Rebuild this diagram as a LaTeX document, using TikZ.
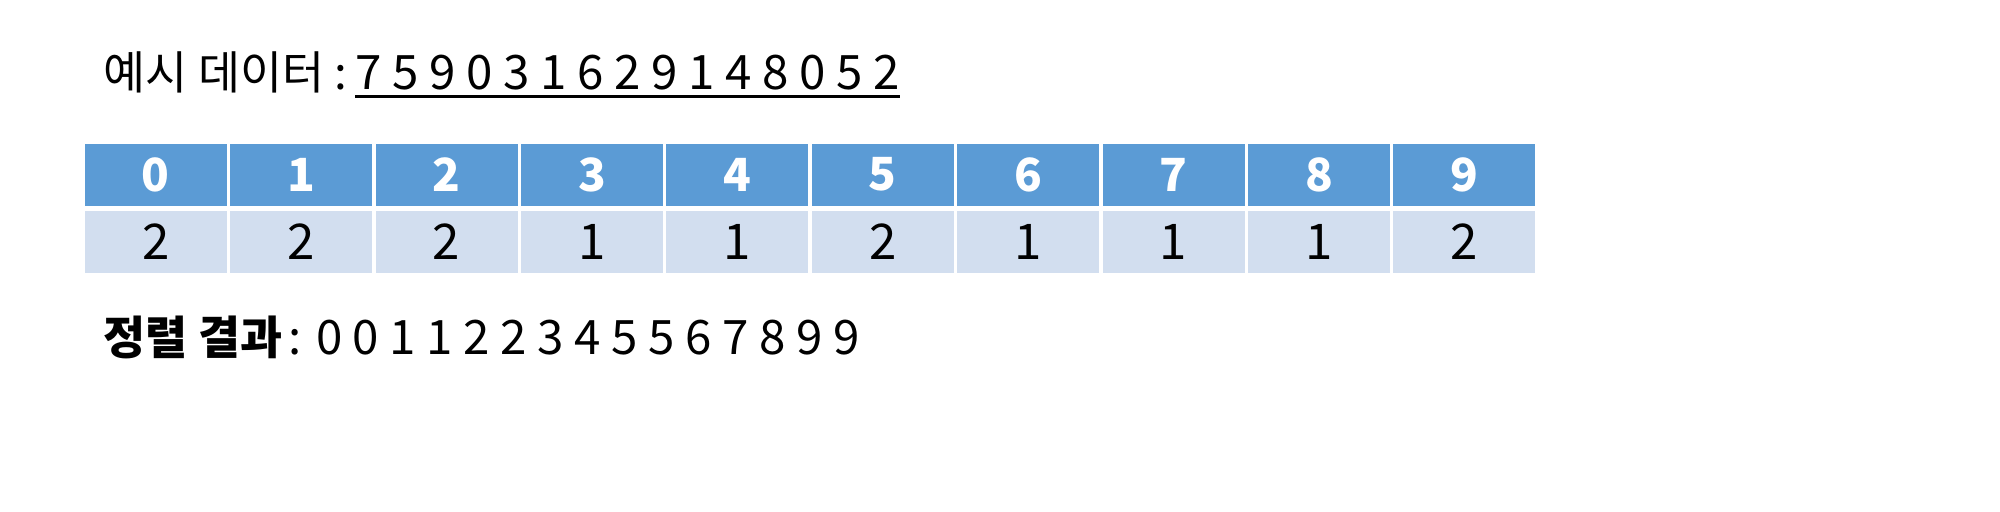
\documentclass[tikz,border=0pt]{standalone}
\usepackage{fontspec}
\setmainfont{Noto Sans CJK KR}
\usepackage{xcolor}
\usetikzlibrary{positioning}
\definecolor{headblue}{HTML}{5B9BD5}
\definecolor{cellblue}{HTML}{D2DEEF}

\begin{document}
\begin{tikzpicture}[node distance=0.02cm, auto]
    % Define styles
    \tikzset{
        every node/.style={font=\fontsize{13.5}{16}\selectfont},
        head/.style={rectangle, fill=headblue, text=white, minimum width=1.42cm, minimum height=0.62cm, inner sep=0pt, font=\fontsize{13}{15}\selectfont\bfseries},
        cnt/.style={rectangle, fill=cellblue, minimum width=1.42cm, minimum height=0.62cm, inner sep=0pt, font=\fontsize{14}{16}\selectfont},
        textline/.style={anchor=base west, inner sep=0pt}
    }
    \useasboundingbox (0,0) rectangle (20,-5.12);

    % Example data
    \node (ex) [textline, font=\fontsize{13}{15}\selectfont] at (1.03,-0.90) {예시 데이터 :};
    \node (exdata) [textline] at (3.55,-0.90) {7 5 9 0 3 1 6 2 9 1 4 8 0 5 2};
    \draw [line width=0.03cm] ([yshift=-0.07cm]exdata.base west) -- ([yshift=-0.07cm]exdata.base east);

    % Index row
    \node (h0) [head, anchor=north west] at (0.84,-1.43) {0};
    \node (h1) [head, right=of h0] {1};
    \node (h2) [head, right=of h1] {2};
    \node (h3) [head, right=of h2] {3};
    \node (h4) [head, right=of h3] {4};
    \node (h5) [head, right=of h4] {5};
    \node (h6) [head, right=of h5] {6};
    \node (h7) [head, right=of h6] {7};
    \node (h8) [head, right=of h7] {8};
    \node (h9) [head, right=of h8] {9};

    % Count row
    \node (c0) [cnt, below=0.04cm of h0] {2};
    \node (c1) [cnt, below=0.04cm of h1] {2};
    \node (c2) [cnt, below=0.04cm of h2] {2};
    \node (c3) [cnt, below=0.04cm of h3] {1};
    \node (c4) [cnt, below=0.04cm of h4] {1};
    \node (c5) [cnt, below=0.04cm of h5] {2};
    \node (c6) [cnt, below=0.04cm of h6] {1};
    \node (c7) [cnt, below=0.04cm of h7] {1};
    \node (c8) [cnt, below=0.04cm of h8] {1};
    \node (c9) [cnt, below=0.04cm of h9] {2};

    % Sorted result
    \node (res) [textline, font=\fontsize{13}{15}\selectfont] at (1.03,-3.55) {\textbf{정렬 결과}};
    \node (resdata) [textline] at (2.88,-3.55) {: 0 0 1 1 2 2 3 4 5 5 6 7 8 9 9};

\end{tikzpicture}
\end{document}
